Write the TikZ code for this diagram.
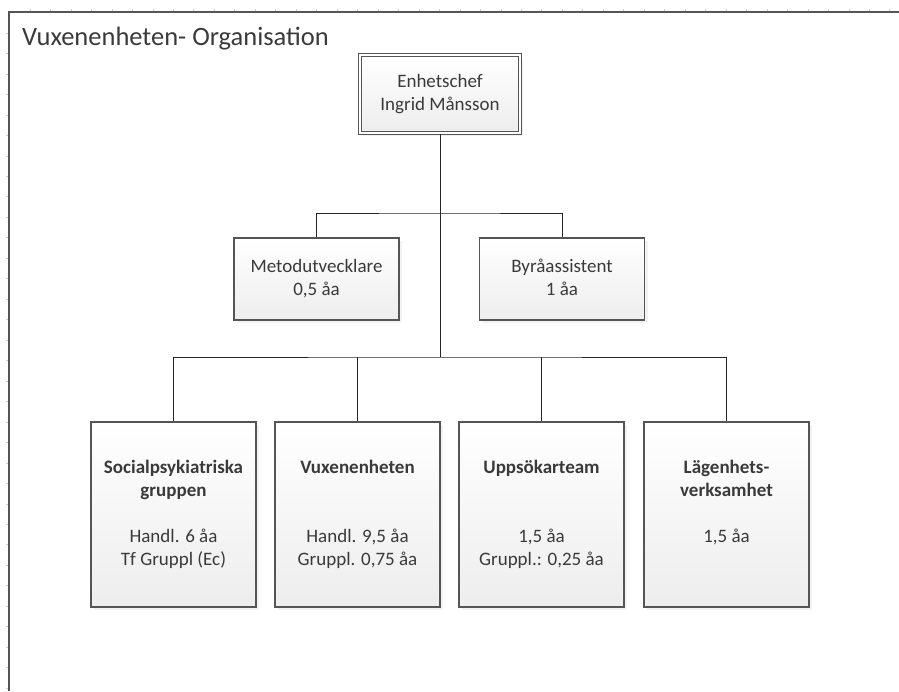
\documentclass[tikz,border=0pt]{standalone}
\usepackage{fontspec}
\setmainfont{Carlito}
\usetikzlibrary{shadows}
\definecolor{kant}{HTML}{555555}
\definecolor{skrift}{HTML}{3A3A3A}
\tikzset{
    enhet/.style={rectangle, draw=kant, line width=1.3pt, top color=white,
    	bottom color=black!7, text=skrift, align=center, inner sep=0pt,
    	drop shadow={shadow xshift=3pt, shadow yshift=-3pt, fill=black!10},
    	font=\fontsize{19}{23}\selectfont}
}
\tikzset{
    chef/.style={enhet, double=white, double distance=2pt, line width=1pt,
    	minimum width=160pt, minimum height=78pt}
}
\tikzset{
    stab/.style={enhet, minimum width=165pt, minimum height=82pt}
}
\tikzset{
    grupp/.style={enhet, minimum width=165pt, minimum height=185pt}
}
\tikzset{
    linje/.style={draw=black!85, line width=1pt}
}

\begin{document}
\begin{tikzpicture}[x=1pt, y=-1pt]
  \useasboundingbox (0,0) rectangle (899,691);

  \foreach \k in {0,...,42}
    \draw [black!20, line width=.6pt] (30+20.47*\k, 9) -- (30+20.47*\k, 11);
  \foreach \k in {0,...,32}
    \draw [black!20, line width=.6pt] (6, 33+20.47*\k) -- (8, 33+20.47*\k);
  \draw [kant, line width=1.4pt] (899,12) -- (9,12) -- (9,691);

  \node (rubrik) [anchor=base west, text=skrift, inner sep=0pt,
    font=\fontsize{26.5}{31}\selectfont] at (22, 45) {Vuxenenheten- Organisation};

  \node (enhetschef) [chef] at (440, 94)
    {\strut Enhetschef\\\strut Ingrid Månsson};

  \node (metod) [stab] at (316.5, 279) {\strut Metodutvecklare\\\strut 0,5 åa};
  \node (byra) [stab] at (562, 279) {\strut Byråassistent\\\strut 1 åa};

  \node (socpsyk) [grupp] at (173.5, 514.5)
    {\strut\textbf{Socialpsykiatriska}\\\strut\textbf{gruppen}\\\strut\\
     \strut Handl. 6 åa\\\strut Tf Gruppl (Ec)};
  \node (vuxen) [grupp] at (357.5, 514.5)
    {\strut\textbf{Vuxenenheten}\\\strut\\\strut\\
     \strut Handl. 9,5 åa\\\strut Gruppl. 0,75 åa};
  \node (uppsok) [grupp] at (541.5, 514.5)
    {\strut\textbf{Uppsökarteam}\\\strut\\\strut\\
     \strut 1,5 åa\\\strut Gruppl.: 0,25 åa};
  \node (lagenhet) [grupp] at (726.5, 514.5)
    {\strut\textbf{Lägenhets-}\\\strut\textbf{verksamhet}\\\strut\\
     \strut 1,5 åa\\\strut};

  \coordinate (stabsrad) at (440, 213);
  \coordinate (grupprad) at (440, 357);

  \draw [linje] (enhetschef.south) -- (grupprad);
  \draw [linje] (metod.north) |- (stabsrad) -| (byra.north);
  \draw [linje] (socpsyk.north) |- (grupprad) -| (lagenhet.north);
  \draw [linje] (vuxen.north) -- (vuxen.north |- grupprad);
  \draw [linje] (uppsok.north) -- (uppsok.north |- grupprad);
\end{tikzpicture}
\end{document}
